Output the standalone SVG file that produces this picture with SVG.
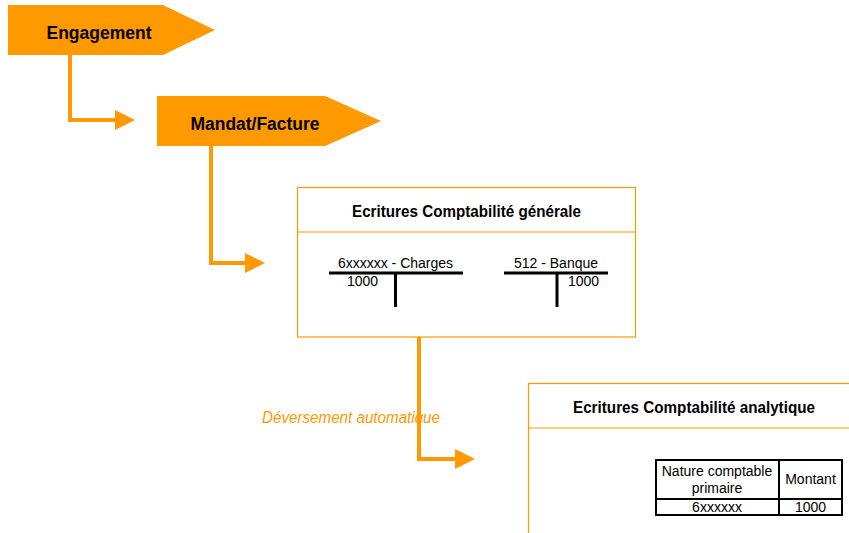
<svg xmlns="http://www.w3.org/2000/svg" width="849" height="533" viewBox="0 0 849 533">
<defs>
<style>
.shape{fill:#FF9900;stroke:none}
.title{font-family:"Liberation Sans",Arial,sans-serif;font-weight:bold;fill:#000;text-anchor:middle}
.box{fill:#fff;stroke:#FF9900;stroke-width:1.2}
.sep{stroke:#FF9900;stroke-width:1.2}
.conn{fill:none;stroke:#FF9900;stroke-width:4;stroke-linejoin:miter}
.txt{font-family:"Liberation Sans",Arial,sans-serif;font-size:14px;fill:#000}
.tline{stroke:#000;stroke-width:3}
.cell{fill:none;stroke:#000;stroke-width:2}
.note{font-family:"Liberation Sans",Arial,sans-serif;font-style:italic;font-size:16px;fill:#FF9900}
</style>
<marker id="ah" viewBox="0 0 20 20" refX="10" refY="10" markerUnits="userSpaceOnUse" markerWidth="20" markerHeight="20" orient="auto">
<path d="M0,0 L20,10 L0,20 z" fill="#FF9900"/>
</marker>
</defs>
<rect width="849" height="533" fill="#fff"/>

<g id="connectors">
<path class="conn" d="M70,55 V120 H125" marker-end="url(#ah)"/>
<path class="conn" d="M211,146 V263 H255" marker-end="url(#ah)"/>
<path class="conn" d="M419,337 V459 H465" marker-end="url(#ah)"/>
</g>

<g id="engagement">
<polygon class="shape" points="8,5 163,5 215,30 163,55 8,55"/>
<text class="title" x="99" y="39" font-size="18" textLength="105" lengthAdjust="spacingAndGlyphs">Engagement</text>
</g>

<g id="mandat">
<polygon class="shape" points="157,96 325,96 381,121 325,146 157,146"/>
<text class="title" x="255" y="130" font-size="18" textLength="129" lengthAdjust="spacingAndGlyphs">Mandat/Facture</text>
</g>

<g id="compta-generale">
<rect class="box" x="297.5" y="187.5" width="338" height="149.5"/>
<line class="sep" x1="297.5" y1="232" x2="635.5" y2="232"/>
<text class="title" x="466.5" y="217" font-size="17" textLength="229" lengthAdjust="spacingAndGlyphs">Ecritures Comptabilité générale</text>
<line class="tline" x1="329" y1="273" x2="463" y2="273"/>
<line class="tline" x1="395.5" y1="273" x2="395.5" y2="307"/>
<text class="txt" x="395.5" y="268" text-anchor="middle">6xxxxxx - Charges</text>
<text class="txt" x="347" y="286">1000</text>
<line class="tline" x1="504" y1="273" x2="608" y2="273"/>
<line class="tline" x1="557" y1="273" x2="557" y2="307"/>
<text class="txt" x="556" y="268" text-anchor="middle">512 - Banque</text>
<text class="txt" x="568" y="286">1000</text>
</g>

<text class="note" x="262" y="423" textLength="178" lengthAdjust="spacingAndGlyphs">Déversement automatique</text>

<g id="compta-analytique">
<rect class="box" x="528.5" y="383.5" width="340" height="170"/>
<line class="sep" x1="528.5" y1="428" x2="849" y2="428"/>
<text class="title" x="694" y="413" font-size="17" textLength="242" lengthAdjust="spacingAndGlyphs">Ecritures Comptabilité analytique</text>
<rect class="cell" x="656" y="460" width="186" height="55"/>
<line class="cell" x1="656" y1="499" x2="842" y2="499"/>
<line class="cell" x1="779" y1="460" x2="779" y2="515"/>
<text class="txt" x="717" y="476" text-anchor="middle">Nature comptable</text>
<text class="txt" x="717" y="493" text-anchor="middle">primaire</text>
<text class="txt" x="810.5" y="484" text-anchor="middle">Montant</text>
<text class="txt" x="717" y="512" text-anchor="middle">6xxxxxx</text>
<text class="txt" x="810.5" y="512" text-anchor="middle">1000</text>
</g>
</svg>
